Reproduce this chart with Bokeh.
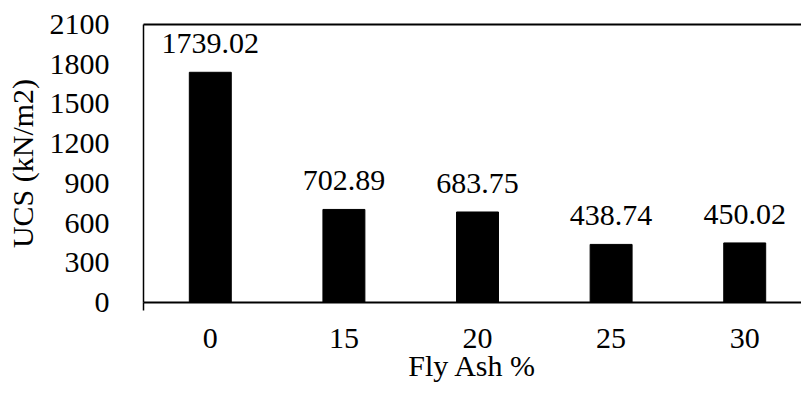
from bokeh.plotting import figure
from bokeh.models import (ColumnDataSource, Range1d, FixedTicker, LinearAxis,
                          LabelSet)
from bokeh.embed import file_html
from bokeh.resources import INLINE

# Unconfined compressive strength for each fly ash content
fly_ash = ["0", "15", "20", "25", "30"]
ucs = [1739.02, 702.89, 683.75, 438.74, 450.02]
y_ticks = [0, 300, 600, 900, 1200, 1500, 1800, 2100]

FONT = "Liberation Serif"
FS = "30px"

pos = list(range(len(fly_ash)))
source = ColumnDataSource(dict(
    x=pos, ucs=ucs, label=[f"{v:.2f}" for v in ucs],
))

p = figure(width=801, height=400, output_backend="svg", toolbar_location=None,
           x_range=Range1d(-0.5, 4.425), y_range=Range1d(0, 2100),
           min_border_left=143, min_border_right=0,
           min_border_top=24, min_border_bottom=98)
p.outline_line_color = None
p.grid.grid_line_color = None
p.background_fill_color = "white"
p.border_fill_color = "white"

p.vbar(x="x", top="ucs", width=0.314, source=source,
       fill_color="black", line_color="black")

labels = LabelSet(x="x", y="ucs", text="label", source=source,
                  text_align="center", text_baseline="alphabetic",
                  y_offset=19, text_font=FONT, text_font_size=FS,
                  text_color="black")
p.add_layout(labels)

# horizontal axis
xa = p.xaxis[0]
xa.ticker = FixedTicker(ticks=pos, minor_ticks=[-0.5])
xa.major_label_overrides = {i: f for i, f in enumerate(fly_ash)}
xa.major_tick_line_color = None
xa.minor_tick_out = 8
xa.minor_tick_in = 0
xa.minor_tick_line_color = "black"
xa.minor_tick_line_width = 1.5
xa.axis_line_color = "black"
xa.axis_line_width = 2
xa.major_label_standoff = 18
xa.major_label_text_font = FONT
xa.major_label_text_font_size = FS
xa.major_label_text_color = "black"
xa.axis_label = "Fly Ash %"
xa.axis_label_text_font = FONT
xa.axis_label_text_font_size = FS
xa.axis_label_text_font_style = "normal"
xa.axis_label_text_color = "black"
xa.axis_label_standoff = -2

# vertical axis
ya = p.yaxis[0]
ya.ticker = FixedTicker(ticks=y_ticks)
ya.major_tick_line_color = None
ya.minor_tick_line_color = None
ya.axis_line_color = "black"
ya.axis_line_width = 1.5
ya.major_label_standoff = 28
ya.major_label_text_font = FONT
ya.major_label_text_font_size = FS
ya.major_label_text_color = "black"
ya.axis_label = "UCS (kN/m2)"
ya.axis_label_text_font = FONT
ya.axis_label_text_font_size = FS
ya.axis_label_text_font_style = "normal"
ya.axis_label_text_color = "black"
ya.axis_label_standoff = 8

# top border line
top = LinearAxis(ticker=FixedTicker(ticks=[]), axis_line_color="black",
                 axis_line_width=2, major_tick_line_color=None,
                 minor_tick_line_color=None, major_label_text_font_size="0px")
p.add_layout(top, "above")

open("out.html", "w").write(file_html(p, INLINE))
